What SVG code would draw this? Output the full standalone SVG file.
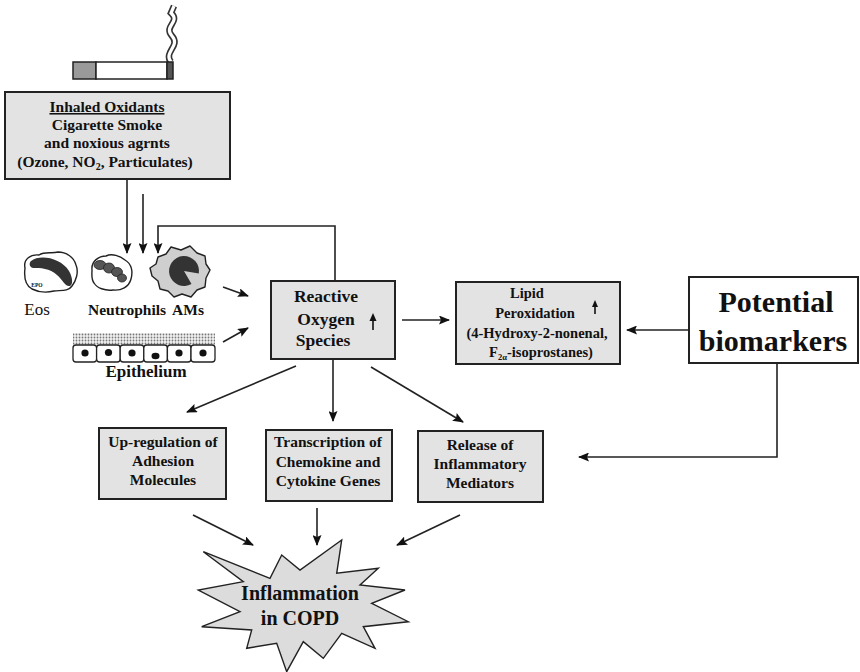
<svg xmlns="http://www.w3.org/2000/svg" width="860" height="672" viewBox="0 0 860 672">
  <defs>
    <style>
      .box { fill: #e3e3e3; stroke: #222; stroke-width: 2; }
      .wbox { fill: #ffffff; stroke: #222; stroke-width: 2; }
      .t { font-family: "Liberation Serif", "Times New Roman", serif; fill: #111; text-anchor: middle; }
      .b { font-weight: bold; }
      .conn { fill: none; stroke: #222; stroke-width: 1.6; }
      .cell { stroke: #222; stroke-width: 1.4; stroke-linejoin: round; }
    </style>
    <marker id="arrow" markerUnits="userSpaceOnUse" markerWidth="11" markerHeight="9" refX="10" refY="4.5" orient="auto">
      <path d="M0,0 L11,4.5 L0,9 L2,4.5 Z" fill="#111"/>
    </marker>
    <pattern id="stipple" width="3" height="3" patternUnits="userSpaceOnUse">
      <rect width="3" height="3" fill="#f2f2f2"/>
      <circle cx="1.5" cy="1.5" r="0.9" fill="#777"/>
    </pattern>
  </defs>

  <rect width="860" height="672" fill="#ffffff"/>

  <!-- cigarette with smoke -->
  <g id="cigarette">
    <path d="M171,62 C163,52 181,46 172,36 C163,26 181,22 171,13 L174,6" fill="none" stroke="#333" stroke-width="6.5"/>
    <path d="M171,62 C163,52 181,46 172,36 C163,26 181,22 171,13 L174,6" fill="none" stroke="#fff" stroke-width="3.2"/>
    <rect x="73" y="62" width="23" height="17" fill="#9a9a9a" stroke="#222" stroke-width="1.5"/>
    <rect x="96" y="62" width="71" height="17" fill="#fff" stroke="#222" stroke-width="1.5"/>
    <rect x="167" y="62" width="6" height="17" fill="#555" stroke="#222" stroke-width="1.5"/>
  </g>

  <!-- inhaled oxidants source box -->
  <g id="inhaled-oxidants">
    <rect class="box" x="5" y="92" width="225" height="87"/>
    <text class="t b" x="107" y="112" font-size="15.5" text-decoration="underline">Inhaled Oxidants</text>
    <text class="t b" x="107" y="130" font-size="15.5">Cigarette Smoke</text>
    <text class="t b" x="107" y="148" font-size="15.5">and noxious agrnts</text>
    <text class="t b" x="105" y="167" font-size="15.5">(Ozone, NO<tspan font-size="10" dy="3">2</tspan><tspan dy="-3">, Particulates)</tspan></text>
  </g>

  <!-- inflammatory cells -->
  <g id="eos">
    <path class="cell" fill="#fff" d="M25,268 C23,259 31,254 39,255 C45,251 52,254 58,252 C66,252 74,257 76,265 C79,272 76,281 72,286 C68,292 60,290 54,291 C46,293 38,292 32,289 C25,285 24,276 25,268 Z"/>
    <path d="M31,261 C40,254 61,258 69,271 C73,278 73,285 70,286 C65,287 63,280 57,275 C50,268 40,268 33,268 C29,267 29,263 31,261 Z" fill="#333"/>
    <text class="t" x="37" y="287" font-size="5.5" font-weight="bold">EPO</text>
    <text class="t" x="37" y="315" font-size="17">Eos</text>
  </g>

  <g id="neutrophil">
    <path class="cell" fill="#fff" d="M92,270 C91,261 99,256 106,256 C112,253 120,256 125,260 C132,264 133,272 131,279 C129,287 121,291 113,290 C105,291 97,288 94,283 C91,279 92,275 92,270 Z"/>
    <ellipse cx="100" cy="265" rx="6" ry="4.5" fill="#555" stroke="#222" stroke-width="0.8"/>
    <ellipse cx="109" cy="268" rx="5.5" ry="5" fill="#555" stroke="#222" stroke-width="0.8"/>
    <ellipse cx="117" cy="272" rx="5.5" ry="4.5" fill="#555" stroke="#222" stroke-width="0.8"/>
    <ellipse cx="122" cy="278" rx="4.5" ry="4" fill="#555" stroke="#222" stroke-width="0.8"/>
    <text class="t b" x="127" y="315" font-size="15.5">Neutrophils</text>
  </g>

  <g id="am">
    <polygon class="cell" fill="#cfcfcf" points="210,270 206,278 205,287 197,290 191,297 182,294 174,297 168,291 160,289 158,281 152,276 150,268 156,264 158,257 166,254 171,247 181,250 190,246 197,253 205,256 206,264"/>
    <path d="M184,271 L198.8,273.6 A15,15 0 1 0 191.5,284 Z" fill="#333"/>
    <text class="t b" x="188" y="315" font-size="15.5">AMs</text>
  </g>

  <g id="epithelium">
    <rect x="73" y="333" width="142" height="12" fill="url(#stipple)"/>
    <g fill="#fff" stroke="#222" stroke-width="1.3">
      <rect x="73" y="345" width="23.6" height="17" rx="3"/>
      <rect x="96.6" y="345" width="23.6" height="17" rx="3"/>
      <rect x="120.2" y="345" width="23.6" height="17" rx="3"/>
      <rect x="143.8" y="345" width="23.6" height="17" rx="3"/>
      <rect x="167.4" y="345" width="23.6" height="17" rx="3"/>
      <rect x="191" y="345" width="24" height="17" rx="3"/>
    </g>
    <g fill="#111">
      <circle cx="85" cy="353" r="3.6"/>
      <circle cx="108.5" cy="352.5" r="3.6"/>
      <circle cx="132" cy="353" r="3.6"/>
      <ellipse cx="155.5" cy="356" rx="4" ry="3.3"/>
      <circle cx="179" cy="353" r="3.6"/>
      <circle cx="203" cy="353" r="3.6"/>
    </g>
    <text class="t b" x="146" y="377" font-size="17">Epithelium</text>
  </g>

  <!-- process boxes -->
  <g id="ros">
    <rect class="box" x="271" y="281" width="124" height="78"/>
    <text class="t b" x="326" y="302" font-size="17.5">Reactive</text>
    <text class="t b" x="326" y="325" font-size="17.5">Oxygen</text>
    <text class="t b" x="323" y="346" font-size="17.5">Species</text>
    <line x1="373" y1="330" x2="373" y2="319" stroke="#111" stroke-width="1.6"/>
    <path d="M369.5,321 L373,313 L376.5,321 Z" fill="#111"/>
  </g>

  <g id="lipid-peroxidation">
    <rect class="box" x="456" y="282" width="164" height="82"/>
    <text class="t b" x="527" y="298" font-size="14.5">Lipid</text>
    <text class="t b" x="535" y="318" font-size="14.5">Peroxidation</text>
    <text class="t b" x="537" y="338" font-size="14.5">(4-Hydroxy-2-nonenal,</text>
    <text class="t b" x="541" y="357" font-size="14.5">F<tspan font-size="8.5" dy="3">2α</tspan><tspan dy="-3">-isoprostanes)</tspan></text>
    <line x1="595" y1="314" x2="595" y2="305" stroke="#111" stroke-width="1.6"/>
    <path d="M592,307 L595,300 L598,307 Z" fill="#111"/>
  </g>

  <g id="biomarkers">
    <rect class="wbox" x="689" y="277" width="169" height="86"/>
    <text class="t b" x="776" y="312" font-size="30">Potential</text>
    <text class="t b" x="773" y="351" font-size="30">biomarkers</text>
  </g>

  <g id="adhesion">
    <rect class="box" x="99" y="428" width="127" height="71"/>
    <text class="t b" x="163" y="447" font-size="15.5">Up-regulation of</text>
    <text class="t b" x="163" y="466" font-size="15.5">Adhesion</text>
    <text class="t b" x="163" y="485" font-size="15.5">Molecules</text>
  </g>

  <g id="transcription">
    <rect class="box" x="266" y="430" width="126" height="71"/>
    <text class="t b" x="328" y="447" font-size="15.5">Transcription of</text>
    <text class="t b" x="328" y="467" font-size="15.5">Chemokine and</text>
    <text class="t b" x="328" y="486" font-size="15.5">Cytokine Genes</text>
  </g>

  <g id="mediators">
    <rect class="box" x="418" y="431" width="125" height="71"/>
    <text class="t b" x="480" y="450" font-size="15.5">Release of</text>
    <text class="t b" x="480" y="469" font-size="15.5">Inflammatory</text>
    <text class="t b" x="480" y="488" font-size="15.5">Mediators</text>
  </g>

  <g id="inflammation">
    <polygon fill="#dcdcdc" stroke="#222" stroke-width="1.4" stroke-linejoin="miter" points="203.3,551.7 270,578.3 281.7,555 300,570 341.7,540 336.7,573.3 378.3,568.3 360,585 405,590 371.7,603.3 408.3,621.7 363.3,626.7 375,648.3 341.7,633.3 323.3,658.3 303.3,641.7 286.7,671.7 276.7,643.3 246.7,648.3 251.7,630 201.7,626.7 240,611.7 198.3,590 243.3,581.7"/>
    <text class="t b" x="300" y="600" font-size="20">Inflammation</text>
    <text class="t b" x="300" y="625" font-size="20">in COPD</text>
  </g>

  <!-- connectors -->
  <g id="connectors">
    <path class="conn" d="M127,179 V253" marker-end="url(#arrow)"/>
    <path class="conn" d="M143,194 V253" marker-end="url(#arrow)"/>
    <path class="conn" d="M335,281 V226 H158 V253" marker-end="url(#arrow)"/>
    <path class="conn" d="M223,287 L248,296" marker-end="url(#arrow)"/>
    <path class="conn" d="M223,342 L248,328" marker-end="url(#arrow)"/>
    <path class="conn" d="M402,320 H449" marker-end="url(#arrow)"/>
    <path class="conn" d="M689,330 H627" marker-end="url(#arrow)"/>
    <path class="conn" d="M777,363 V457 H579" marker-end="url(#arrow)"/>
    <path class="conn" d="M296,366 L187,412" marker-end="url(#arrow)"/>
    <path class="conn" d="M333,359 V421" marker-end="url(#arrow)"/>
    <path class="conn" d="M371,367 L463,422" marker-end="url(#arrow)"/>
    <path class="conn" d="M193,515 L253,545" marker-end="url(#arrow)"/>
    <path class="conn" d="M317,508 V545" marker-end="url(#arrow)"/>
    <path class="conn" d="M460,515 L397,545" marker-end="url(#arrow)"/>
  </g>
</svg>
